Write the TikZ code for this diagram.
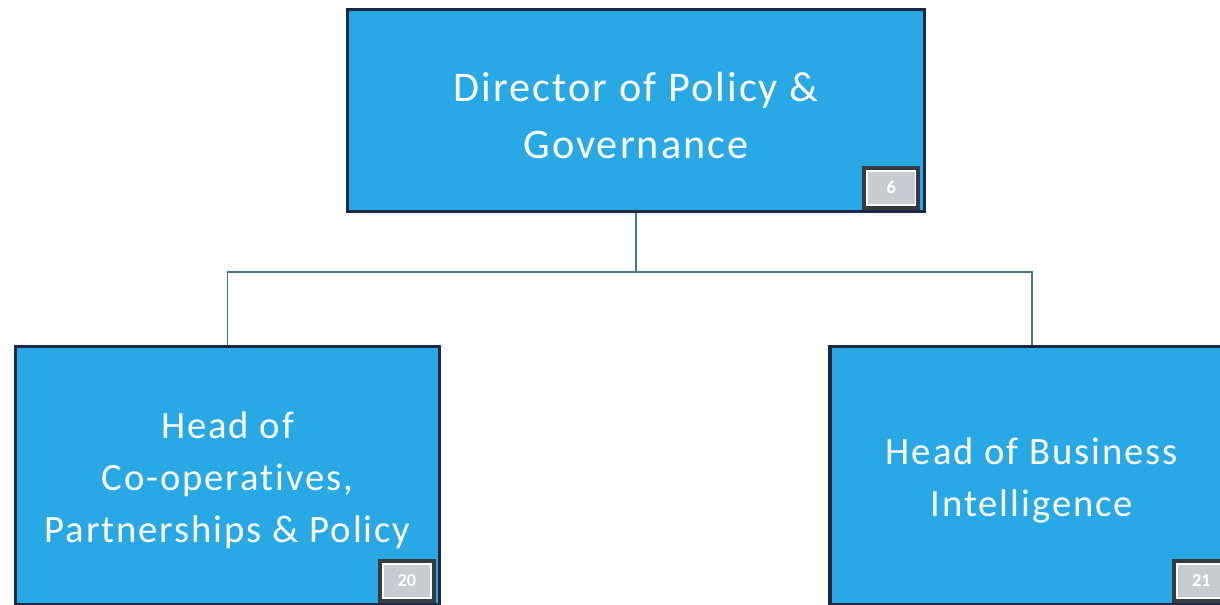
\documentclass[tikz,border=0pt]{standalone}
\usepackage{fontspec}
\setmainfont{Carlito}
\newfontfamily\boxfont[LetterSpace=5,Ligatures=NoCommon]{Carlito}
\definecolor{boxBlue}{RGB}{40,168,228}
\definecolor{boxLine}{RGB}{28,40,70}
\definecolor{badgeGray}{RGB}{200,204,210}
\definecolor{badgeDark}{RGB}{55,58,62}
\definecolor{wireColor}{RGB}{70,120,140}
\begin{document}
\begin{tikzpicture}
[x=0.025cm,y=-0.025cm,%
  boxDecorate/.style={shape=rectangle,draw=boxLine,line width=2.2pt,fill=boxBlue,
    text=white,align=center,inner sep=0pt},%
  badgeFrame/.style={shape=rectangle,fill=badgeDark,minimum width=1.45cm,minimum height=1.1cm,inner sep=0pt},%
  badgeDecorate/.style={shape=rectangle,draw=white,line width=1.2pt,fill=badgeGray,text=white,
    minimum width=1.2cm,minimum height=0.85cm,inner sep=0pt,font=\bfseries\fontsize{13}{14}\selectfont},%
  wireDecorate/.style={draw=wireColor,line width=1.1pt}]
\useasboundingbox (0,0) rectangle (1220,604);
\clip (0,0) rectangle (1220,604);
%% boxes
\node (top) at (636,110.5) [boxDecorate,minimum width=14.4cm,minimum height=5.05cm,
  font=\boxfont\fontsize{30}{40}\selectfont] {\rule{0pt}{28pt}Director of Policy \&\\Governance};
\node (left) at (227.5,475.5) [boxDecorate,minimum width=10.6cm,minimum height=6.45cm,
  font=\boxfont\fontsize{27.5}{37}\selectfont] {\rule{0pt}{26pt}Head of\\Co-operatives,\\Partnerships \& Policy};
\node (right) at (1032,475.5) [boxDecorate,minimum width=10.1cm,minimum height=6.45cm,
  font=\boxfont\fontsize{27.5}{37}\selectfont] {\rule{0pt}{26pt}Head of Business\\Intelligence};
%% badges
\foreach \boxname/\num in {top/6, left/20, right/21}
{
  \node (\boxname Frame) [badgeFrame,anchor=south east] at ([shift={(-5,-3)}]\boxname.south east) {};
  \node (\boxname Badge) [badgeDecorate] at (\boxname Frame) {\num};
}
%% connectors
\coordinate (split) at ([yshift=-1.475cm]top.south);
\draw[wireDecorate] (top.south) -- (split);
\foreach \endnode in {left, right}
{
  \draw[wireDecorate] (split) -| (\endnode.north);
}
\end{tikzpicture}
\end{document}
